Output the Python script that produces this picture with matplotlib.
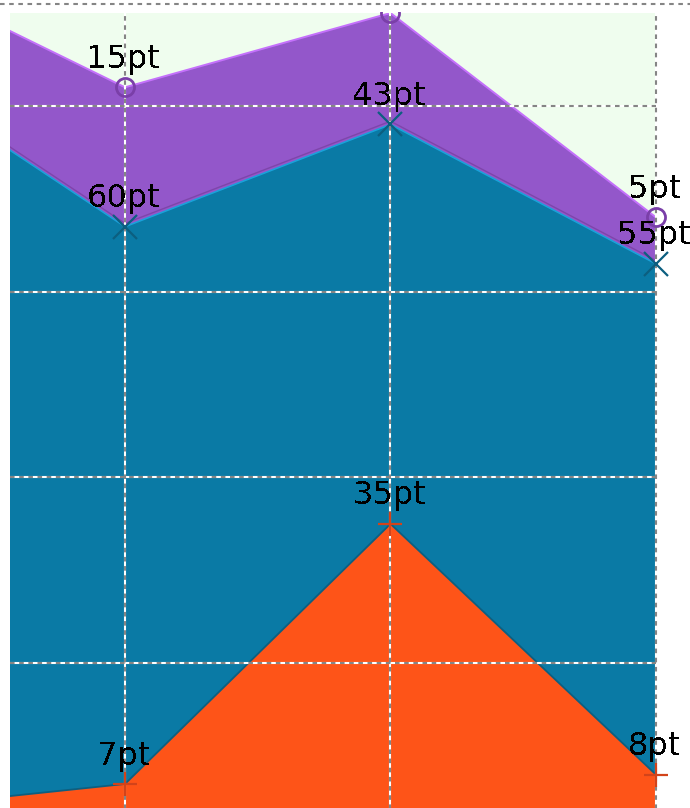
import matplotlib
matplotlib.use('Agg')
import matplotlib.pyplot as plt
from matplotlib.lines import Line2D
from matplotlib.patches import Rectangle
import numpy as np

# datos (el primer punto queda fuera del recorte, a la izquierda)
x = [-1, 0, 1, 2]
naranja = [4, 7, 35, 8]
azul = [82, 60, 43, 55]
morado = [10, 15, 12, 5]

fig = plt.figure(figsize=(6.9, 8.08), dpi=100)
W, H = 690, 808
# ejes: x=0 en px 125, x=2 en px 656; y=0 en px 849, y=90 en px 13
izq, der = 10, 656
arriba, abajo = 13, 849
ax = fig.add_axes([izq / W, 1 - abajo / H, (der - izq) / W, (abajo - arriba) / H])
ax.set_xlim((izq - 125) / 265.5, 2)
ax.set_ylim(0, 90)
ax.set_facecolor('#effdee')
for s in ax.spines.values():
    s.set_visible(False)
ax.set_xticks([])
ax.set_yticks([])

b1 = np.array(naranja)
b2 = b1 + np.array(azul)
b3 = b2 + np.array(morado)

ax.fill_between(x, 0, b1, color='#fe5418', lw=0, zorder=2)
ax.fill_between(x, b1, b2, color='#0a7aa5', lw=0, zorder=2)
ax.fill_between(x, b2, b3, color='#9357ca', lw=0, zorder=2)
ax.plot(x, b1, color='#0d5f80', lw=1.3, zorder=3)
ax.plot(x, b2 + 0.35, color='#7e45aa', lw=1.0, zorder=3)
ax.plot(x, b2, color='#1aa1da', lw=1.2, zorder=3)
ax.plot(x, b3, color='#c471fb', lw=1.4, zorder=3)

# rejilla punteada encima de las areas
for yv in [20, 40, 60, 80]:
    ax.axhline(yv, color='white', lw=1.5, zorder=4)
    ax.axhline(yv, color='#858585', lw=1.5, dashes=(2.2, 2.2), zorder=5)
for xv in [0, 1, 2]:
    ax.axvline(xv, color='white', lw=1.5, zorder=4, clip_on=False)
    ax.axvline(xv, color='#858585', lw=1.5, dashes=(2.2, 2.2), zorder=5, clip_on=False)

# marcadores y etiquetas
series = [(b1, naranja, '+', '#d2431a'), (b2, azul, 'x', '#0c5f80'), (b3, morado, 'o', '#7a3fa8')]
for tope, vals, m, c in series:
    for xi, yi, v in zip(x[1:], tope[1:], vals[1:]):
        if m == 'o':
            ax.plot(xi, yi, marker='o', ms=13, mfc='none', mec=c, mew=2, zorder=6, clip_on=False)
        else:
            ax.plot(xi, yi, marker=m, ms=17, mec=c, mew=1.6, zorder=6, clip_on=False)
        if yi >= 88:
            continue  # la etiqueta queda fuera del recorte
        ax.annotate(f'{v}pt', (xi, yi), xytext=(-1, 14), textcoords='offset points',
                    ha='center', va='baseline', fontsize=23, color='black',
                    zorder=7, annotation_clip=False, antialiased=False)

# franja blanca superior (recorte) y linea punteada
fig.add_artist(Rectangle((0, 1 - 12 / H), 1, 12 / H, transform=fig.transFigure,
                         facecolor='white', edgecolor='none', zorder=10))
fig.add_artist(Line2D([0, 1], [1 - 4 / H, 1 - 4 / H], transform=fig.transFigure,
                      color='#858585', lw=1.5, dashes=(2.2, 2.2), zorder=11))

fig.savefig('out.png', dpi=100)
